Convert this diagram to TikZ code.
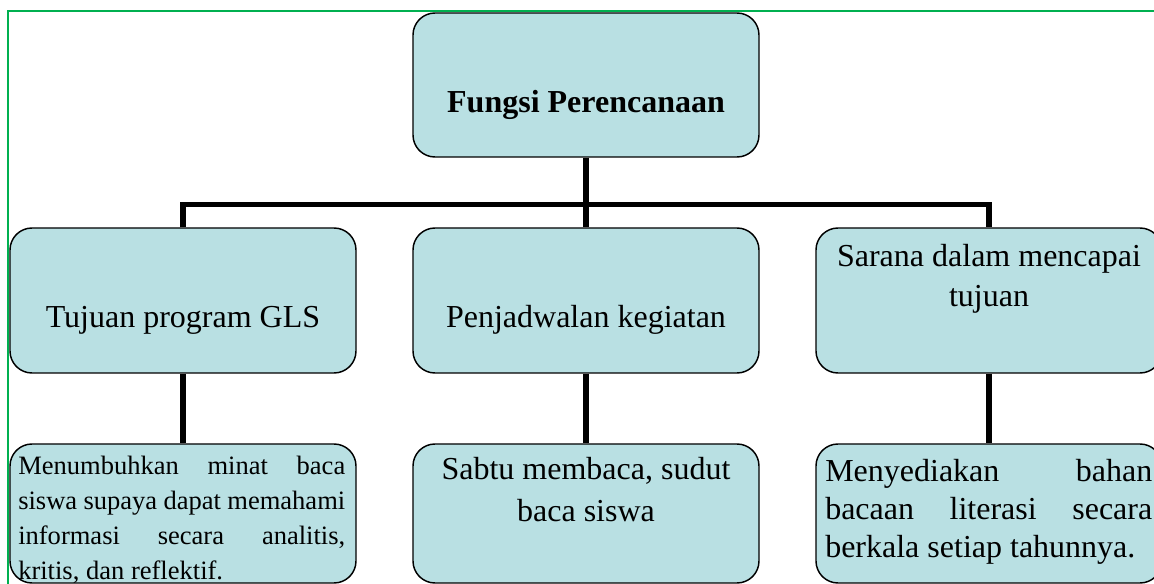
\documentclass[tikz,border=0pt]{standalone}
\usepackage{fontspec}
\setmainfont{Liberation Serif}
\definecolor{boxfill}{RGB}{185,224,227}
\definecolor{framegreen}{RGB}{0,176,80}
\begin{document}
\begin{tikzpicture}[x=0.75pt,y=-0.75pt,
  box/.style={draw=black, line width=1.1pt, fill=boxfill, rounded corners=16.5pt,
              minimum width=259.5pt, inner sep=0pt},
  link/.style={line width=3.9pt, line join=miter},
  txt/.style={inner sep=0pt, anchor=base},
  bigfont/.style={font=\fontsize{24}{30}\selectfont},
]
\useasboundingbox (0,0) rectangle (1154,584);
\clip (0,0) rectangle (1154,584);
\draw[framegreen, line width=1.2pt] (8,11) rectangle (1200,640);

% boxes
\node[box, minimum height=108pt]    (top) at (586,85)    {};
\node[box, minimum height=108.75pt] (r2a) at (183,300.5) {};
\node[box, minimum height=108.75pt] (r2b) at (586,300.5) {};
\node[box, minimum height=108.75pt] (r2c) at (989,300.5) {};
\node[box, minimum height=104.25pt] (r3a) at (183,513.5) {};
\node[box, minimum height=104.25pt] (r3b) at (586,513.5) {};
\node[box, minimum height=104.25pt] (r3c) at (989,513.5) {};

% connectors
\coordinate (bar) at (586,204.5);
\draw[link] (top.south) -- (r2b.north);
\draw[link] (r2a.north) -- (r2a.north |- bar) -- (r2c.north |- bar) -- (r2c.north);
\draw[link] (r2a.south) -- (r3a.north);
\draw[link] (r2b.south) -- (r3b.north);
\draw[link] (r2c.south) -- (r3c.north);

% texts
\node[txt, font=\bfseries\fontsize{24}{30}\selectfont] (ttop) at (586,113) {Fungsi Perencanaan};
\node[txt, bigfont] (ta) at (183,328) {Tujuan program GLS};
\node[txt, bigfont] (tb) at (586,328) {Penjadwalan kegiatan};
\node[txt, bigfont] (tc) at (989,267) {\parbox[t]{245.25pt}{\centering Sarana dalam mencapai\\ tujuan}};

\node[txt, anchor=base west, font=\fontsize{19.9}{26.25}\selectfont] (tl) at (18,475)
  {\parbox[t]{245.25pt}{\makebox[245.25pt][s]{Menumbuhkan minat baca}\\
   \makebox[245.25pt][s]{siswa supaya dapat memahami}\\
   \makebox[245.25pt][s]{informasi secara analitis,}\\
   kritis, dan reflektif.}};
\node[txt, font=\fontsize{24}{31.5}\selectfont] (tm) at (586,480)
  {\parbox[t]{245.25pt}{\centering Sabtu membaca, sudut\\ baca siswa}};
\node[txt, anchor=base west, font=\fontsize{24}{28.5}\selectfont] (tr) at (825,482)
  {\parbox[t]{245.25pt}{\makebox[245.25pt][s]{Menyediakan bahan}\\
   \makebox[245.25pt][s]{bacaan literasi secara}\\
   berkala setiap tahunnya.}};
\end{tikzpicture}
\end{document}
